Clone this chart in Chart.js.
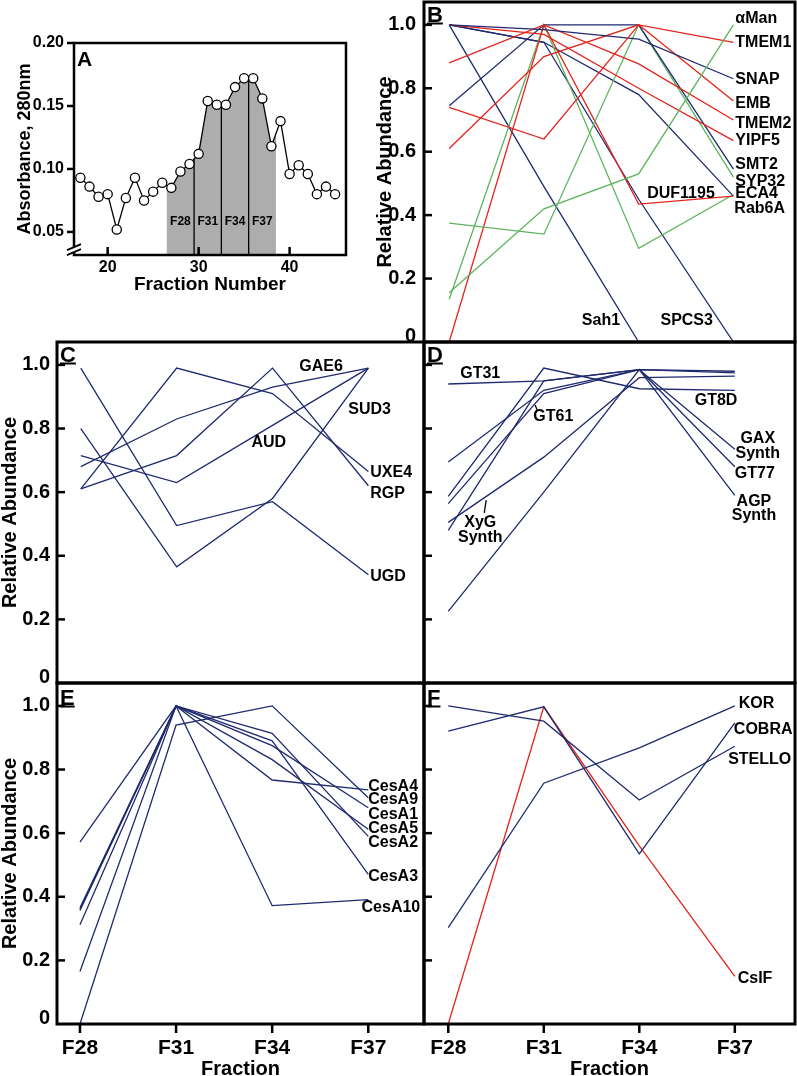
<!DOCTYPE html>
<html>
<head>
<meta charset="utf-8">
<title>Fraction profiles</title>
<script src="https://cdn.jsdelivr.net/npm/chart.js@4.4.1/dist/chart.umd.min.js"></script>
<style>
  body { margin: 0; background: #fff; width: 797px; height: 1076px; overflow: hidden; position: relative; }
  canvas { position: absolute; }
</style>
</head>
<body>
<canvas id="chartA" width="370" height="300" style="left:0;top:0"></canvas>
<canvas id="chartB" width="437" height="382" style="left:360px;top:-20px"></canvas>
<canvas id="chartC" width="430" height="385" style="left:0;top:320px"></canvas>
<canvas id="chartD" width="397" height="385" style="left:400px;top:320px"></canvas>
<canvas id="chartE" width="430" height="416" style="left:0;top:660px"></canvas>
<canvas id="chartF" width="397" height="416" style="left:400px;top:660px"></canvas>
<script>
// ---------- data ----------
// Panel A: absorbance profile of the gradient fractions
const fractionNumber = [17, 18, 19, 20, 21, 22, 23, 24, 25, 26, 27, 28, 29, 30, 31,
                        32, 33, 34, 35, 36, 37, 38, 39, 40, 41, 42, 43, 44, 45];
const absorbance280 = [0.093, 0.086, 0.078, 0.080, 0.052, 0.077, 0.093, 0.075, 0.082, 0.089,
                       0.085, 0.098, 0.104, 0.112, 0.154, 0.151, 0.151, 0.165, 0.172, 0.172,
                       0.156, 0.118, 0.138, 0.096, 0.103, 0.096, 0.080, 0.086, 0.080];
const absTicks = [0.05, 0.10, 0.15, 0.20];
const fractionTicks = [20, 30, 40];
const pooledFractions = ['F28', 'F31', 'F34', 'F37'];
const poolCentres = [28, 31, 34, 37];
const poolEdges = [26.5, 29.5, 32.5, 35.5, 38.5];

// Panels B-F: relative abundance in pooled fractions
const fractions = ['F28', 'F31', 'F34', 'F37'];
const relTicks = [0, 0.2, 0.4, 0.6, 0.8, 1.0];

const namesB = ['αMan', 'TMEM1', 'SNAP', 'EMB', 'TMEM2', 'YIPF5', 'SMT2',
                'SYP32', 'DUF1195', 'ECA4', 'Rab6A', 'Sah1', 'SPCS3'];
const valuesB = [
  [0.155, 0.42, 0.53, 1.0],
  [0.74, 0.64, 1.0, 0.945],
  [1.0, 0.985, 0.955, 0.83],
  [0.61, 0.90, 1.0, 0.76],
  [0.88, 1.0, 0.877, 0.70],
  [1.0, 0.97, 0.80, 0.635],
  [0.745, 1.0, 1.0, 0.545],
  [0.375, 0.34, 1.0, 0.52],
  [0.0, 1.0, 0.435, 0.46],
  [0.135, 1.0, 0.295, 0.465],
  [1.0, 0.945, 0.78, 0.46],
  [1.0, 0.49, 0.0, null],
  [1.0, 0.945, 0.45, 0.0]
];

const namesC = ['GAE6', 'SUD3', 'AUD', 'UXE4', 'RGP', 'UGD'];
const valuesC = [
  [0.68, 0.83, 0.93, 0.99],
  [0.80, 0.365, 0.58, 0.99],
  [0.715, 0.63, 0.81, 0.99],
  [0.61, 0.99, 0.91, 0.665],
  [0.61, 0.715, 0.99, 0.62],
  [0.99, 0.495, 0.57, 0.34]
];

const namesD = ['GT31', 'GT61', 'GT8D', 'GAX Synth', 'XyG Synth', 'GT77', 'AGP Synth'];
const valuesD = [
  [0.94, 0.95, 0.985, 0.975],
  [0.695, 0.92, 0.985, 0.98],
  [0.587, 0.99, 0.925, 0.92],
  [0.564, 0.91, 0.985, 0.735],
  [0.505, 0.71, 0.96, 0.965],
  [0.48, 0.95, 0.985, 0.68],
  [0.225, 0.60, 0.985, 0.59]
];

const namesE = ['CesA4', 'CesA9', 'CesA1', 'CesA5', 'CesA2', 'CesA3', 'CesA10'];
const valuesE = [
  [0.365, 1.0, 0.767, 0.736],
  [0.0, 0.94, 1.0, 0.711],
  [0.572, 1.0, 0.875, 0.68],
  [0.312, 1.0, 0.831, 0.612],
  [0.357, 1.0, 0.914, 0.59],
  [0.165, 1.0, 0.89, 0.47],
  [0.36, 1.0, 0.372, 0.391]
];

const namesF = ['KOR', 'COBRA', 'STELLO', 'CsIF'];
const valuesF = [
  [0.303, 0.757, 0.868, 1.0],
  [0.921, 0.997, 0.535, 0.947],
  [1.0, 0.952, 0.704, 0.873],
  [0.0, 0.997, 0.56, 0.15]
];

// ---------- styling ----------
const FONT = "'Liberation Sans', Arial, Helvetica, sans-serif";
const INK = '#000';
const hue = { n: '#1f2a6e', r: '#e3241b', g: '#5db45b' };
const colorsB = ['g', 'r', 'n', 'r', 'r', 'r', 'n', 'g', 'r', 'g', 'n', 'n', 'n'];
const colorsF = ['n', 'n', 'n', 'r'];

// label placement: [text, x (fraction index), y (value), align]
const labelsB = [
  ['αMan', 3.02, 1.019], ['TMEM1', 3.02, 0.943], ['SNAP', 3.02, 0.827], ['EMB', 3.02, 0.752],
  ['TMEM2', 3.02, 0.689], ['YIPF5', 3.02, 0.635], ['SMT2', 3.02, 0.560], ['SYP32', 3.02, 0.506],
  ['ECA4', 3.02, 0.469], ['Rab6A', 3.01, 0.421], ['DUF1195', 2.09, 0.469],
  ['Sah1', 1.40, 0.069], ['SPCS3', 2.23, 0.069]
];
const labelsC = [
  ['GAE6', 2.28, 0.994], ['SUD3', 2.79, 0.858], ['AUD', 1.78, 0.755],
  ['UXE4', 3.02, 0.660], ['RGP', 3.02, 0.594], ['UGD', 3.02, 0.333]
];
const labelsD = [
  ['GT31', 0.125, 0.972], ['GT61', 0.89, 0.836], ['GT8D', 2.58, 0.887],
  ['GAX', 3.24, 0.767, 'center'], ['Synth', 3.24, 0.72, 'center'], ['GT77', 3.0, 0.657],
  ['AGP', 3.2, 0.569, 'center'], ['Synth', 3.2, 0.525, 'center'],
  ['XyG', 0.335, 0.503, 'center'], ['Synth', 0.335, 0.456, 'center']
];
const leadersD = [[0.91, 0.874, 0.93, 0.858], [0.397, 0.575, 0.377, 0.535]];
const labelsE = [
  ['CesA4', 3.0, 0.745], ['CesA9', 3.0, 0.707], ['CesA1', 3.0, 0.659], ['CesA5', 3.0, 0.615],
  ['CesA2', 3.0, 0.571], ['CesA3', 3.0, 0.464], ['CesA10', 2.93, 0.366]
];
const labelsF = [
  ['KOR', 3.04, 1.006], ['COBRA', 2.99, 0.924], ['STELLO', 2.93, 0.832], ['CsIF', 3.03, 0.142]
];

Chart.defaults.font.family = FONT;
Chart.defaults.color = INK;

function bold(size, lineHeight) {
  return { family: FONT, size: size, weight: 'bold', lineHeight: lineHeight || 1.2 };
}

function noScalePadding(s) {
  s.paddingTop = 0; s.paddingBottom = 0; s.paddingLeft = 0; s.paddingRight = 0;
}

function shadeIndex(chart) {
  return chart.data.datasets.findIndex(ds => ds.shadeRange);
}

// extra drawing per canvas (frames, tick marks, letters, line names)
const decorConfig = {};

const decor = {
  id: 'decor',
  // the shaded pool is drawn first; clip it to the pooled fraction range
  beforeDatasetsDraw(chart) {
    const k = shadeIndex(chart);
    if (k < 0) return;
    const ds = chart.data.datasets[k];
    const a = chart.chartArea, xs = chart.scales.x;
    const x0 = xs.getPixelForValue(ds.shadeRange[0]);
    const x1 = xs.getPixelForValue(ds.shadeRange[1]);
    chart.ctx.save();
    chart.ctx.beginPath();
    chart.ctx.rect(x0, a.top, x1 - x0, a.bottom - a.top);
    chart.ctx.clip();
  },
  afterDatasetDraw(chart, args) {
    const ds = chart.data.datasets[args.index];
    if (!ds.shadeRange) return;
    const ctx = chart.ctx;
    ctx.restore();
    const cfg = decorConfig[chart.canvas.id];
    const pts = chart.getDatasetMeta(args.index).data;
    const a = chart.chartArea, xs = chart.scales.x;
    ctx.save();
    ctx.strokeStyle = INK;
    ctx.lineWidth = 1.3;
    cfg.dividers.forEach(v => {
      const px = xs.getPixelForValue(v);
      for (let i = 0; i < pts.length - 1; i++) {
        if (pts[i].x <= px && pts[i + 1].x >= px) {
          const t = (px - pts[i].x) / (pts[i + 1].x - pts[i].x);
          const py = pts[i].y + t * (pts[i + 1].y - pts[i].y);
          ctx.beginPath();
          ctx.moveTo(px, a.bottom);
          ctx.lineTo(px, py);
          ctx.stroke();
          break;
        }
      }
    });
    ctx.restore();
  },
  afterDraw(chart) {
    const cfg = decorConfig[chart.canvas.id];
    if (!cfg) return;
    const ctx = chart.ctx, a = chart.chartArea;
    const xs = chart.scales.x, ys = chart.scales.y;
    ctx.save();
    ctx.strokeStyle = INK;
    ctx.fillStyle = INK;

    // tick marks (positive length = pointing into the plot)
    ctx.lineWidth = 2.5;
    (cfg.yTicks || []).forEach(v => {
      const y = ys.getPixelForValue(v);
      ctx.beginPath(); ctx.moveTo(a.left, y); ctx.lineTo(a.left + cfg.yTickLen, y); ctx.stroke();
    });
    (cfg.xTicks || []).forEach(v => {
      const x = xs.getPixelForValue(v);
      ctx.beginPath(); ctx.moveTo(x, a.bottom); ctx.lineTo(x, a.bottom - cfg.xTickLen); ctx.stroke();
    });

    // frame
    ctx.lineWidth = cfg.frame;
    ctx.strokeRect(a.left, a.top, a.right - a.left, a.bottom - a.top);

    // broken y axis
    if (cfg.axisBreak) {
      const y0 = ys.getPixelForValue(cfg.axisBreak);
      ctx.fillStyle = '#fff';
      ctx.beginPath();
      ctx.moveTo(a.left - 7, y0 + 3); ctx.lineTo(a.left + 7, y0 - 3);
      ctx.lineTo(a.left + 7, y0 + 2); ctx.lineTo(a.left - 7, y0 + 8);
      ctx.closePath(); ctx.fill();
      ctx.fillStyle = INK;
      ctx.lineWidth = 1.8;
      ctx.beginPath();
      ctx.moveTo(a.left - 7, y0 + 3); ctx.lineTo(a.left + 7, y0 - 3);
      ctx.moveTo(a.left - 7, y0 + 8); ctx.lineTo(a.left + 7, y0 + 2);
      ctx.stroke();
    }

    // series names
    ctx.textBaseline = 'middle';
    (cfg.labels || []).forEach(l => {
      ctx.font = 'bold ' + (cfg.labelSize || 16) + 'px ' + FONT;
      ctx.textAlign = l[3] || 'left';
      ctx.fillText(l[0], xs.getPixelForValue(l[1]), ys.getPixelForValue(l[2]));
    });
    ctx.lineWidth = 1.3;
    (cfg.leaders || []).forEach(p => {
      ctx.beginPath();
      ctx.moveTo(xs.getPixelForValue(p[0]), ys.getPixelForValue(p[1]));
      ctx.lineTo(xs.getPixelForValue(p[2]), ys.getPixelForValue(p[3]));
      ctx.stroke();
    });

    // panel letter
    ctx.font = 'bold ' + cfg.letterSize + 'px ' + FONT;
    ctx.textAlign = 'left';
    ctx.textBaseline = 'alphabetic';
    const lx = a.left + 3, ly = a.top + cfg.letterDrop;
    ctx.fillText(cfg.letter, lx, ly);
    if (cfg.underline) {
      const w = ctx.measureText(cfg.letter).width;
      ctx.fillRect(lx, ly + 0.5, w, 2);
    }
    ctx.restore();
  }
};

function lineSets(names, values, colors) {
  return names.map((name, k) => ({
    label: name,
    data: values[k].map((v, i) => ({ x: i, y: v })),
    borderColor: hue[colors[k]],
    borderWidth: 1.3,
    pointRadius: 0,
    tension: 0,
    fill: false
  }));
}

function relativePanel(id, o) {
  decorConfig[id] = {
    frame: 3, letter: o.letter, letterSize: 22, letterDrop: o.letterDrop, underline: true,
    yTicks: relTicks.slice(1), yTickLen: 8,
    xTicks: o.xAxis ? fractions.map((f, i) => i) : null, xTickLen: -9,
    labels: o.labels, leaders: o.leaders
  };
  new Chart(document.getElementById(id), {
    type: 'line',
    data: { datasets: lineSets(o.names, o.values, o.colors) },
    options: {
      responsive: false,
      animation: false,
      events: [],
      layout: { padding: o.padding },
      plugins: { legend: { display: false }, tooltip: { enabled: false } },
      scales: {
        x: {
          type: 'linear',
          min: o.xMin, max: o.xMax,
          display: !!o.xAxis,
          afterBuildTicks: s => { s.ticks = fractions.map((f, i) => ({ value: i })); },
          afterFit: s => { noScalePadding(s); if (o.xAxis) s.height = 52; },
          grid: { display: false, drawTicks: false },
          border: { display: false },
          ticks: {
            font: bold(21), color: INK, padding: 12, autoSkip: false, maxRotation: 0,
            callback: (v, i) => fractions[i]
          },
          title: { display: !!o.xAxis, text: 'Fraction', color: INK, font: bold(20, 0.8), padding: { top: 0, bottom: -1 } }
        },
        y: {
          min: 0, max: 1.072,
          display: !!o.yAxis,
          afterBuildTicks: s => { s.ticks = relTicks.map(v => ({ value: v })); },
          afterFit: s => { noScalePadding(s); if (o.yAxis) s.width = o.yWidth; },
          grid: { display: false, drawTicks: false },
          border: { display: false },
          ticks: {
            // the "0" label sits just above the frame, as in the figure
            font: c => (c.tick && c.tick.value === 0 ? bold(20, 0.6) : bold(20)),
            color: INK, padding: o.tickPad || 7,
            callback: v => (v === 0 ? ['0', ''] : v.toFixed(1))
          },
          title: {
            display: !!o.yAxis, text: 'Relative Abundance', color: INK,
            font: bold(20, 1), padding: { top: o.titlePad || 0, bottom: 0 }
          }
        }
      }
    },
    plugins: [decor]
  });
}

// ---------- panel A ----------
const absPoints = fractionNumber.map((f, i) => ({ x: f, y: absorbance280[i] }));
decorConfig.chartA = {
  frame: 2.5, letter: 'A', letterSize: 21, letterDrop: 23, underline: false,
  yTicks: absTicks, yTickLen: -7, xTicks: fractionTicks, xTickLen: 8,
  axisBreak: 0.038, dividers: poolEdges.slice(1, -1), labelSize: 12,
  labels: pooledFractions.map((t, i) => [t, poolCentres[i], 0.058, 'center'])
};
new Chart(document.getElementById('chartA'), {
  type: 'line',
  data: {
    datasets: [
      {
        label: 'A280',
        data: absPoints,
        order: 0,
        borderColor: INK, borderWidth: 1.3, tension: 0,
        pointRadius: 4.6, pointBackgroundColor: '#fff', pointBorderColor: INK, pointBorderWidth: 1.3,
        fill: false, clip: false
      },
      {
        label: 'pooled',
        data: absPoints,
        order: 1,
        borderColor: 'rgba(0,0,0,0)', borderWidth: 0, pointRadius: 0, tension: 0,
        backgroundColor: '#adadad',
        fill: 'start',
        shadeRange: [poolEdges[0], poolEdges[poolEdges.length - 1]]
      }
    ]
  },
  options: {
    responsive: false,
    animation: false,
    events: [],
    layout: { padding: { left: 0, right: 24, top: 43, bottom: 0 } },
    plugins: { legend: { display: false }, tooltip: { enabled: false } },
    scales: {
      x: {
        type: 'linear', min: 16.3, max: 46.2,
        afterBuildTicks: s => { s.ticks = fractionTicks.map(v => ({ value: v })); },
        afterFit: s => { noScalePadding(s); s.height = 45; },
        grid: { display: false, drawTicks: false },
        border: { display: false },
        ticks: { font: bold(16), color: INK, padding: 3, callback: v => String(v) },
        title: { display: true, text: 'Fraction Number', color: INK, font: bold(19), padding: { top: 0, bottom: 4 } }
      },
      y: {
        min: 0.0317, max: 0.20,
        afterBuildTicks: s => { s.ticks = absTicks.map(v => ({ value: v })); },
        afterFit: s => { noScalePadding(s); s.width = 74; },
        grid: { display: false, drawTicks: false },
        border: { display: false },
        ticks: { font: bold(16), color: INK, padding: 10, callback: v => v.toFixed(2) },
        title: { display: true, text: 'Absorbance, 280nm', color: INK, font: bold(18), padding: { top: 14, bottom: 0 } }
      }
    }
  },
  plugins: [decor]
});

// ---------- panels B-F ----------
relativePanel('chartB', {
  names: namesB, values: valuesB, colors: colorsB, labels: labelsB,
  letter: 'B', letterDrop: 20, xMin: -0.266, xMax: 3.65,
  yAxis: true, yWidth: 64, tickPad: 8, titlePad: 15,
  padding: { left: 0, right: 2, top: 22, bottom: 20 }
});
relativePanel('chartC', {
  names: namesC, values: valuesC, colors: namesC.map(() => 'n'), labels: labelsC,
  letter: 'C', letterDrop: 20, xMin: -0.248, xMax: 3.58,
  yAxis: true, yWidth: 57,
  padding: { left: 0, right: 6, top: 22, bottom: 22 }
});
relativePanel('chartD', {
  names: namesD, values: valuesD, colors: namesD.map(() => 'n'), labels: labelsD, leaders: leadersD,
  letter: 'D', letterDrop: 20, xMin: -0.254, xMax: 3.63,
  padding: { left: 24, right: 2, top: 22, bottom: 22 }
});
relativePanel('chartE', {
  names: namesE, values: valuesE, colors: namesE.map(() => 'n'), labels: labelsE,
  letter: 'E', letterDrop: 22, xMin: -0.239, xMax: 3.58,
  yAxis: true, yWidth: 57, xAxis: true,
  padding: { left: 0, right: 6, top: 23, bottom: 0 }
});
relativePanel('chartF', {
  names: namesF, values: valuesF, colors: colorsF, labels: labelsF,
  letter: 'F', letterDrop: 22, xMin: -0.254, xMax: 3.63,
  xAxis: true,
  padding: { left: 24, right: 2, top: 23, bottom: 0 }
});
</script>
</body>
</html>
